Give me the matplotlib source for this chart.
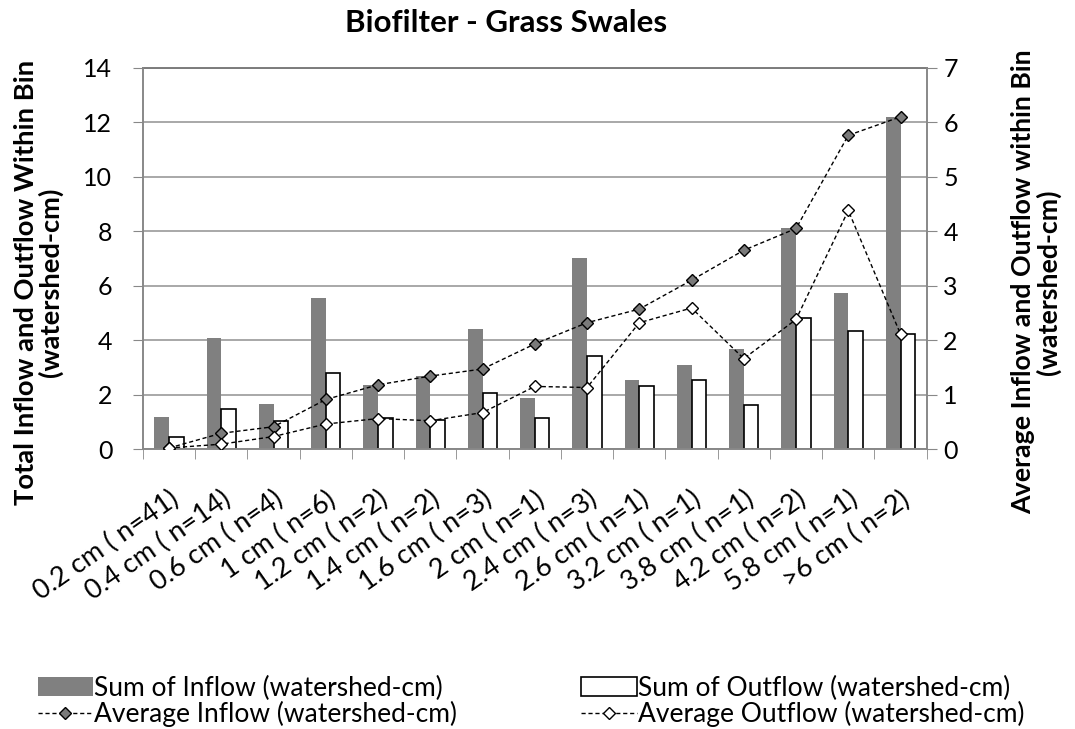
import numpy as np
import matplotlib.pyplot as plt

plt.rcParams['font.family'] = ['Lato', 'DejaVu Sans']

categories = ["0.2 cm ( n=41)", "0.4 cm ( n=14)", "0.6 cm ( n=4)", "1 cm ( n=6)",
              "1.2 cm ( n=2)", "1.4 cm ( n=2)", "1.6 cm ( n=3)", "2 cm ( n=1)",
              "2.4 cm ( n=3)", "2.6 cm ( n=1)", "3.2 cm ( n=1)", "3.8 cm ( n=1)",
              "4.2 cm ( n=2)", "5.8 cm ( n=1)", ">6 cm ( n=2)"]
sum_inflow = [1.19, 4.07, 1.66, 5.56, 2.36, 2.70, 4.42, 1.88,
              7.00, 2.52, 3.09, 3.66, 8.10, 5.73, 12.18]
sum_outflow = [0.43, 1.47, 1.02, 2.79, 1.13, 1.07, 2.05, 1.13,
               3.43, 2.33, 2.55, 1.63, 4.81, 4.33, 4.21]
avg_inflow = [0.02, 0.29, 0.41, 0.91, 1.18, 1.34, 1.47, 1.93,
              2.32, 2.57, 3.10, 3.65, 4.05, 5.76, 6.10]
avg_outflow = [0.02, 0.09, 0.23, 0.46, 0.56, 0.52, 0.67, 1.15,
               1.13, 2.32, 2.59, 1.66, 2.38, 4.38, 2.11]

x = np.arange(len(categories))
w = 0.28

fig = plt.figure(figsize=(10.75, 7.29), dpi=100)
ax = fig.add_axes([0.133, 0.384, 0.729, 0.523])
ax2 = ax.twinx()

b1 = ax.bar(x - w / 2, sum_inflow, w, color="#808080", edgecolor="none",
            label="Sum of Inflow (watershed-cm)", zorder=2)
b2 = ax.bar(x + w / 2, sum_outflow, w, color="white", edgecolor="black", linewidth=1.2,
            label="Sum of Outflow (watershed-cm)", zorder=2)

l1, = ax2.plot(x, avg_inflow, linestyle="--", dashes=(3, 2), color="black", linewidth=1,
               marker="D", markersize=6.5, markerfacecolor="#7a7a7a", markeredgecolor="black",
               markeredgewidth=1, label="Average Inflow (watershed-cm)", zorder=3)
l2, = ax2.plot(x, avg_outflow, linestyle="--", dashes=(3, 2), color="black", linewidth=1,
               marker="D", markersize=6.5, markerfacecolor="white", markeredgecolor="black",
               markeredgewidth=1, label="Average Outflow (watershed-cm)", zorder=3)

ax.set_xlim(-0.5, len(categories) - 0.5)
ax.set_ylim(0, 14)
ax.set_yticks(range(0, 15, 2))
ax2.set_ylim(0, 7)
ax2.set_yticks(range(0, 8))

ax.yaxis.grid(True, color="#999999", linewidth=1.2, zorder=0)
ax.set_axisbelow(True)

ax.set_xticks(x)
ax.set_xticklabels(categories, rotation=35, ha="right", rotation_mode="anchor", fontsize=19.5)
ax.tick_params(axis="x", which="major", length=0, pad=27)
ax.set_xticks(np.arange(-0.5, len(categories), 1), minor=True)
ax.tick_params(axis="x", which="minor", length=7, color="#888888", direction="out")
ax.tick_params(axis="y", labelsize=18, length=7, color="#888888", direction="out", pad=15)
ax2.tick_params(axis="y", labelsize=18, length=7, color="#888888", direction="out", pad=5)

for a in (ax, ax2):
    for s in a.spines.values():
        s.set_color("#888888")
        s.set_linewidth(1.2)
ax.spines["top"].set_color("#333333")

ax.set_ylabel("Total Inflow and Outflow Within Bin\n(watershed-cm)", fontsize=19.7,
              fontweight="bold", linespacing=1.0)
ax.yaxis.set_label_coords(-0.102, 0.438)
ax2.set_ylabel("Average Inflow and Outflow within Bin\n(watershed-cm)", fontsize=19.3,
               fontweight="bold", rotation=90, linespacing=1.0)
ax2.yaxis.set_label_coords(1.108, 0.438)

fig.text(0.471, 0.956, "Biofilter - Grass Swales", fontsize=22.5, fontweight="bold",
         ha="center", va="baseline")

fig.legend([b1, l1, b2, l2],
           [h.get_label() for h in (b1, l1, b2, l2)],
           loc="lower left", bbox_to_anchor=(0.035, 0.003), ncol=2, frameon=False,
           fontsize=19, columnspacing=4.7, handlelength=2.1, handletextpad=0.05,
           labelspacing=0.0, borderpad=0, borderaxespad=0)

fig.savefig("out.png", dpi=100)
